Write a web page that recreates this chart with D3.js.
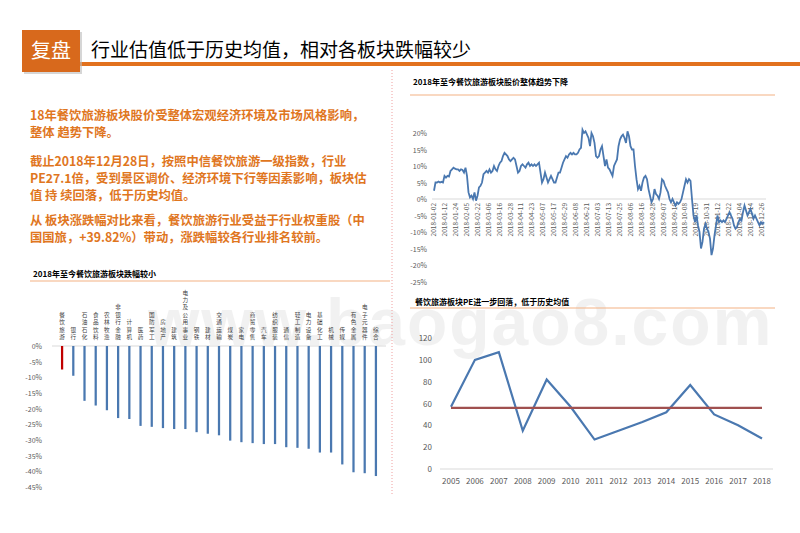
<!DOCTYPE html><html><head><meta charset="utf-8"><script src="https://cdn.jsdelivr.net/npm/d3@7"></script>
<style>body{margin:0;background:#fff}svg{font-family:"Noto Sans CJK SC",sans-serif}</style></head><body><svg width="800" height="533"></svg>
<script>
const industries=["餐饮旅游","银行","石油石化","食品饮料","农林牧渔","非银行金融","计算机","医药","国防军工","房地产","建筑","电力及公用事业","钢铁","建材","交通运输","煤炭","家电","商贸零售","汽车","纺织服装","通信","轻工制造","电力设备","基础化工","机械","传媒","有色金属","电子元器件","综合"];
const changes=[-7.5,-9.5,-17.5,-19,-20.5,-23,-23.3,-25.5,-25.8,-26.2,-26.5,-26.5,-27.5,-28,-28.5,-30.2,-30.7,-31,-31.3,-31.3,-32.3,-32.5,-32.8,-34,-34,-37.8,-40.3,-40.6,-41.5];
const barTicks=[0,-5,-10,-15,-20,-25,-30,-35,-40,-45];
const dateLabels=["01-02","01-12","01-24","02-05","02-22","03-06","03-16","03-28","04-11","04-23","05-07","05-17","05-29","06-08","06-21","07-03","07-13","07-25","08-06","08-16","08-28","09-07","09-19","10-08","10-19","10-31","11-12","11-22","12-04","12-14","12-26"];
const trend=[2.5,5,5,5.3,5,5.2,5,7,6.5,7,6.8,8.5,9,9.5,9.2,9,9,8.5,9,8.8,8,9.5,7,2,0.5,1,0,2,-0.5,1,3.5,4,5,7.5,8,8.5,8,9,8,8.5,10,9,8.5,10,11,11.5,13,14,13.5,13,12,11.5,12,12.5,12,10,8,8.5,10,10.5,10,9.5,10.5,11,10,10.5,10,10.5,10,10.5,11,8,5,6,8,6.5,5,6,7,6,5,5,6.5,8,8,9.5,11,12,13,12.5,13.5,14,13.5,14,13.5,13.5,14,15,15.5,21,20,20.5,19.5,18.5,16,20,19,17,13,12.5,13,15,16,13,10,12,9.5,9,8,7,10,11,12,16,18,19,19.5,18.5,17,20.5,19,16,15,15,10,6,3,4,2.5,5,6.5,7,6,3,1,-1,0,3,1.5,1,0,2,6,5.5,4,3,2,0,-1,0,-1,-2,-1,-1.5,-1,0,2,4,6,5,6,5.5,0,-5,-7,-5,-8,-10,-15,-13,-9,-7.5,-9,-10,-12,-17,-15,-11,-8,-5,-7,-6.5,-7,-6.5,-7,-6,-5,-4,-5,-6,-8,-9,-8.5,-7,-6,-6.5,-4,-2,-3.5,-5,-4,-3,-4.5,-6,-5,-6,-7,-8,-7,-7.5,-7];
const trendTicks=[20,15,10,5,0,-5,-10,-15,-20,-25];
const years=[2005,2006,2007,2008,2009,2010,2011,2012,2013,2014,2015,2016,2017,2018];
const pe=[57,100,107,35,82,57,27,35,43,52,77,50,40,28];
const peMean=56;
const peTicks=[0,20,40,60,80,100,120];

const svg=d3.select("svg");
const OR="#e2711d",BL="#4a78b0",GR="#595959";
// watermark
svg.append("text").attr("x",148).attr("y",345).attr("font-size",66).attr("font-family","Arial").attr("font-weight","bold").attr("fill","#000").attr("opacity",0.05).attr("letter-spacing",2).text("www.baogao8.com");
// header
svg.append("rect").attr("x",80).attr("y",62).attr("width",720).attr("height",4).attr("fill",OR);
svg.append("rect").attr("x",24).attr("y",32).attr("width",58).attr("height",42).attr("fill","#bbb").attr("opacity",0.6);
svg.append("rect").attr("x",22).attr("y",30).attr("width",58).attr("height",42).attr("fill","#d8691c");
svg.append("text").attr("x",51).attr("y",58).attr("text-anchor","middle").attr("fill","#fff").attr("font-size",20).text("复盘");
svg.append("text").attr("x",91).attr("y",57).attr("fill","#000").attr("font-size",19).text("行业估值低于历史均值，相对各板块跌幅较少");
svg.append("line").attr("x1",392).attr("x2",392).attr("y1",70).attr("y2",495).attr("stroke","#f0a0a0").attr("stroke-dasharray","1,2");
// paragraphs
const paras=[[120,"18年餐饮旅游板块股价受整体宏观经济环境及市场风格影响，"],[137,"整体 趋势下降。"],[166,"截止2018年12月28日，按照中信餐饮旅游一级指数，行业"],[183,"PE27.1倍，受到景区调价、经济环境下行等因素影响，板块估"],[200,"值 持 续回落，低于历史均值。"],[225,"从 板块涨跌幅对比来看，餐饮旅游行业受益于行业权重股（中"],[242,"国国旅，+39.82%）带动，涨跌幅较各行业排名较前。"]];
paras.forEach(p=>svg.append("text").attr("x",30).attr("y",p[0]).attr("fill","#e0761e").attr("font-weight","bold").attr("font-size",12.3).text(p[1]));

function title(x,y,x1,x2,ly,t){svg.append("text").attr("x",x).attr("y",y).attr("font-size",8).attr("font-weight","bold").text(t);
 svg.append("line").attr("x1",x1).attr("x2",x2).attr("y1",ly).attr("y2",ly).attr("stroke","#f4b183").attr("stroke-width",1.2);}
// bar chart
title(33,277,30,390,281,"2018年至今餐饮旅游板块跌幅较小");
const xb=d3.scaleBand().domain(industries).range([52,386]).padding(0.8);
const yb=d3.scaleLinear().domain([-45,0]).range([487,346]);
svg.append("line").attr("x1",52).attr("x2",386).attr("y1",yb(0)).attr("y2",yb(0)).attr("stroke","#d9d9d9");
svg.selectAll(".bar").data(changes).join("rect").attr("x",(d,i)=>xb(industries[i])).attr("width",xb.bandwidth()).attr("y",yb(0)).attr("height",d=>yb(d)-yb(0)).attr("fill",(d,i)=>i==0?"#c00000":BL);
barTicks.forEach(t=>svg.append("text").attr("x",42).attr("y",yb(t)+3).attr("text-anchor","end").attr("font-size",7).attr("fill",GR).text(t+"%"));
industries.forEach((n,i)=>{const x=xb(n)+xb.bandwidth()/2;
 [...n].forEach((c,k)=>svg.append("text").attr("font-size",5.6).attr("fill","#404040").attr("text-anchor","middle").attr("x",x).attr("y",339-(n.length-1-k)*7.4).text(c));});
// trend chart
title(413,85,410,775,95,"2018年至今餐饮旅游板块股价整体趋势下降");
const xt=d3.scaleLinear().domain([0,trend.length-1]).range([434,764]);
const yt=d3.scaleLinear().domain([-20,20]).range([265,133]);
svg.append("line").attr("x1",432).attr("x2",766).attr("y1",yt(0)).attr("y2",yt(0)).attr("stroke","#d9d9d9");
trendTicks.forEach(t=>svg.append("text").attr("x",427).attr("y",yt(t)+3).attr("text-anchor","end").attr("font-size",7).attr("fill",GR).text(t+"%"));
dateLabels.forEach((d,i)=>{const x=434+i*(328/30);svg.append("text").attr("transform",`translate(${x+2},${203}) rotate(-90)`).attr("text-anchor","end").attr("font-size",6.5).attr("fill",GR).text("2018-"+d);});
svg.append("path").datum(trend).attr("d",d3.line().x((d,i)=>xt(i)).y(d=>yt(d))).attr("fill","none").attr("stroke",BL).attr("stroke-width",1.8);
// PE chart
title(415,305,410,775,308,"餐饮旅游板块PE进一步回落，低于历史均值");
const xp=d3.scalePoint().domain(years).range([451,762]);
const yp=d3.scaleLinear().domain([0,120]).range([469,338]);
svg.append("line").attr("x1",440).attr("x2",773).attr("y1",yp(0)).attr("y2",yp(0)).attr("stroke","#d9d9d9");
peTicks.forEach(t=>svg.append("text").attr("x",432).attr("y",yp(t)+3).attr("text-anchor","end").attr("font-size",8).attr("fill",GR).text(t));
years.forEach(y=>svg.append("text").attr("x",xp(y)).attr("y",484).attr("text-anchor","middle").attr("font-size",8).attr("fill",GR).text(y));
svg.append("path").datum(pe).attr("d",d3.line().x((d,i)=>xp(years[i])).y(d=>yp(d))).attr("fill","none").attr("stroke",BL).attr("stroke-width",2.2);
svg.append("line").attr("x1",xp(2005)).attr("x2",xp(2018)).attr("y1",yp(peMean)).attr("y2",yp(peMean)).attr("stroke","#a0504f").attr("stroke-width",2.2);
</script></body></html>
